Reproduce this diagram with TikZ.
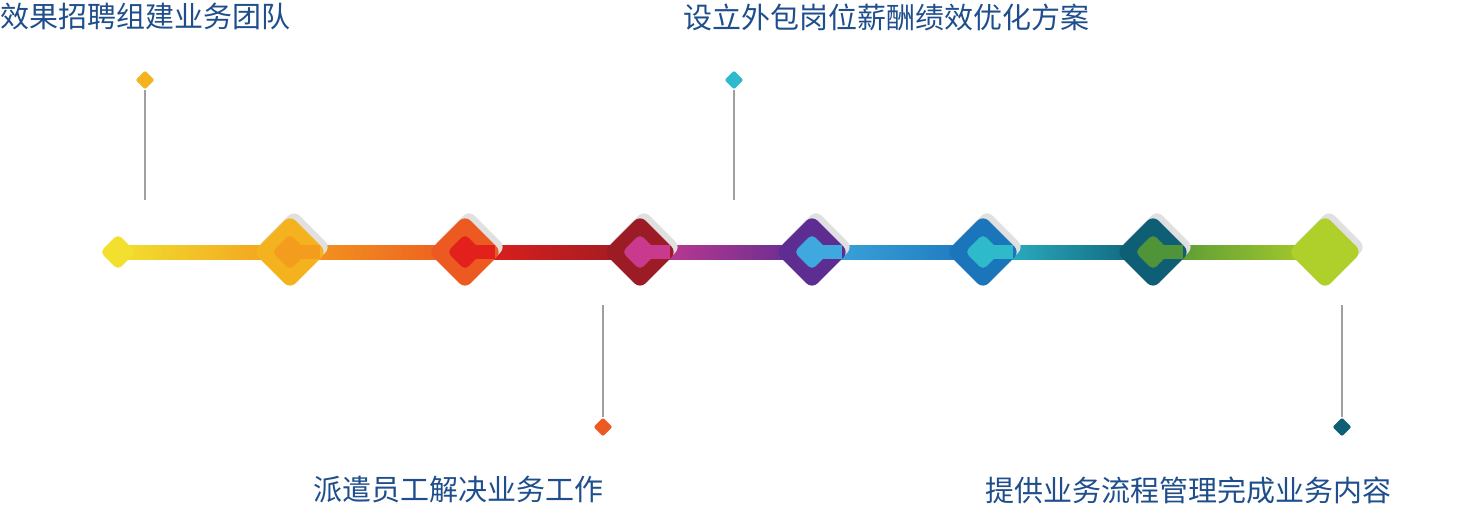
\documentclass[tikz,border=0pt]{standalone}
\usepackage{fontspec}
\newfontfamily\cjk{Noto Sans CJK SC}
\usetikzlibrary{shapes.geometric}
\definecolor{txtblue}{HTML}{1F4E8C}
\definecolor{pingray}{HTML}{A0A0A0}
\definecolor{cA}{HTML}{F2DF2E}
\definecolor{cB}{HTML}{F5B21F}
\definecolor{cBi}{HTML}{F39C1E}
\definecolor{cC}{HTML}{EC5A21}
\definecolor{cCi}{HTML}{E3201B}
\definecolor{cD}{HTML}{9B1C24}
\definecolor{cDi}{HTML}{C93A8F}
\definecolor{cE}{HTML}{5E2D91}
\definecolor{cEi}{HTML}{3FA9DF}
\definecolor{cF}{HTML}{1B75BB}
\definecolor{cFi}{HTML}{2FBACB}
\definecolor{cG}{HTML}{0E5E75}
\definecolor{cGi}{HTML}{4F9438}
\definecolor{cH}{HTML}{AFCF2A}
\tikzset{
  bigdia/.style={diamond, rounded corners=8pt, minimum size=74pt, inner sep=0pt, fill=#1},
  smalldia/.style={diamond, rounded corners=5pt, minimum size=36pt, inner sep=0pt, fill=#1},
  pindia/.style={diamond, rounded corners=2pt, minimum size=19pt, inner sep=0pt, fill=#1},
  pinline/.style={draw=pingray, line width=2pt},
  caption/.style={text=txtblue, font=\cjk\fontsize{29}{31}\selectfont, inner sep=0pt},
}
\begin{document}
\begin{tikzpicture}[x=1pt,y=-1pt]
\useasboundingbox (0,0) rectangle (1467,505);
% bar segments
\coordinate (s0) at (118,252);
\foreach \name/\x in {s1/290,s2/465,s3/640,s4/812,s5/983,s6/1153,s7/1325}
  \coordinate (\name) at (\x,252);
\foreach \a/\b/\ca/\cb in {s0/s1/cA/cBi,s1/s2/cBi/cC,s2/s3/cCi/cD,s3/s4/cDi/cE,s4/s5/cEi/cF,s5/s6/cFi/cG,s6/s7/cGi/cH}
  \shade[left color=\ca, right color=\cb] ([yshift=-7]\a) rectangle ([yshift=7]\b);
% shadows
\foreach \name in {s1,s2,s3,s4,s5,s6,s7}
  \node[bigdia=black!12] at ([xshift=4,yshift=5]\name) {};
% diamonds
\node[smalldia=cA] (d0) at (s0) {};
\foreach \name/\co/\ci in {s1/cB/cBi,s2/cC/cCi,s3/cD/cDi,s4/cE/cEi,s5/cF/cFi,s6/cG/cGi}{
  \node[bigdia=\co] (o\name) at (\name) {};
  \node[smalldia=\ci] (i\name) at (\name) {};
  \fill[\ci] ([yshift=-7]\name) rectangle ([xshift=30,yshift=7]\name);
}
\node[bigdia=cH] (os7) at (s7) {};
% pins
\node[pindia=cB] (p1) at (145,80) {};
\coordinate (q1) at (145,200);
\draw[pinline] (p1) -- (q1);
\node[pindia=cFi] (p2) at (734,80) {};
\coordinate (q2) at (734,200);
\draw[pinline] (p2) -- (q2);
\node[pindia=cC] (p3) at (603,427) {};
\coordinate (q3) at (603,305);
\draw[pinline] (q3) -- (p3);
\node[pindia=cG] (p4) at (1342,427) {};
\coordinate (q4) at (1342,305);
\draw[pinline] (q4) -- (p4);
% captions
\node[caption, anchor=west] (t1) at (0,17) {效果招聘组建业务团队};
\node[caption, anchor=west] (t2) at (683,17) {设立外包岗位薪酬绩效优化方案};
\node[caption, anchor=west] (t3) at (313,490) {派遣员工解决业务工作};
\node[caption, anchor=west] (t4) at (985,490) {提供业务流程管理完成业务内容};
\end{tikzpicture}
\end{document}
